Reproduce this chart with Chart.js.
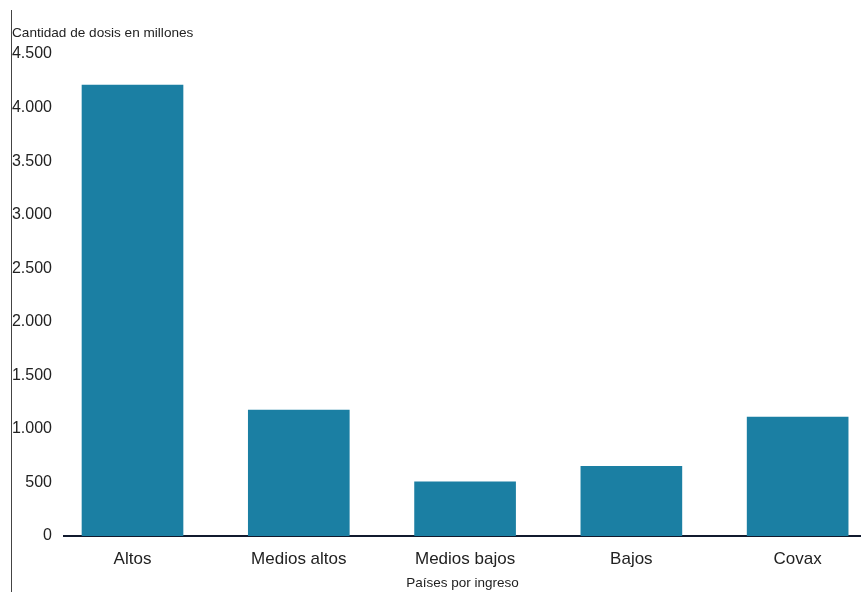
<!DOCTYPE html>
<html>
<head>
<meta charset="utf-8">
<script src="https://cdn.jsdelivr.net/npm/chart.js@4/dist/chart.umd.min.js"></script>
<style>
  html, body { margin: 0; padding: 0; background: #ffffff; }
  #wrap { position: relative; width: 861px; height: 592px; }
  #leftline { position: absolute; left: 11px; top: 10px; width: 1px; height: 582px; background: #444; }
  canvas { position: absolute; left: 0; top: 0; }
</style>
</head>
<body>
<div id="wrap">
  <canvas id="c" width="861" height="592"></canvas>
  <div id="leftline"></div>
</div>
<script>
const categories = ['Altos', 'Medios altos', 'Medios bajos', 'Bajos', 'Covax'];
const dosisMillones = [4210, 1175, 505, 650, 1110];
const yTicks = [0, 500, 1000, 1500, 2000, 2500, 3000, 3500, 4000, 4500];
const yAxisTitle = 'Cantidad de dosis en millones';
const xAxisTitle = 'Países por ingreso';

const FONT = '"Liberation Sans", Arial, Helvetica, sans-serif';
const TEXT = '#222222';

function fmt(v) {
  return String(Math.round(v)).replace(/\B(?=(\d{3})+(?!\d))/g, '.');
}

const points = categories.map((c, i) => ({ x: i, y: dosisMillones[i] }));

new Chart(document.getElementById('c'), {
  type: 'bar',
  data: {
    datasets: [{
      data: points,
      backgroundColor: '#1b7fa3',
      borderWidth: 0,
      barThickness: 101
    }]
  },
  options: {
    responsive: false,
    animation: false,
    layout: { padding: { left: 12, right: 0, top: 0, bottom: 0 } },
    plugins: {
      legend: { display: false },
      tooltip: { enabled: false },
      title: {
        display: true,
        text: yAxisTitle,
        align: 'start',
        color: TEXT,
        font: { family: FONT, size: 13.6, weight: 'normal' },
        padding: { top: 25, bottom: 12.7 }
      }
    },
    scales: {
      x: {
        type: 'linear',
        offset: false,
        min: -0.412,
        max: 4.381,
        afterBuildTicks: (axis) => { axis.ticks = categories.map((c, i) => ({ value: i })); },
        afterFit: (axis) => { axis.height = 56; },
        ticks: {
          callback: (v) => categories[v] !== undefined ? categories[v] : '',
          color: TEXT,
          font: { family: FONT, size: 17 },
          padding: 13,
          maxRotation: 0,
          autoSkip: false
        },
        grid: { display: false, drawTicks: false },
        border: { display: true, color: '#111a2e', width: 2 },
        title: {
          display: true,
          text: xAxisTitle,
          color: TEXT,
          font: { family: FONT, size: 13.5 },
          padding: { top: 5, bottom: 1 }
        }
      },
      y: {
        min: 0,
        max: 4500,
        afterBuildTicks: (axis) => { axis.ticks = yTicks.map(v => ({ value: v })); },
        afterFit: (axis) => { axis.width = 52; },
        ticks: {
          callback: (v) => fmt(v),
          color: TEXT,
          font: { family: FONT, size: 16 },
          padding: 12
        },
        grid: { display: false, drawTicks: false },
        border: { display: false }
      }
    }
  }
});
</script>
</body>
</html>
